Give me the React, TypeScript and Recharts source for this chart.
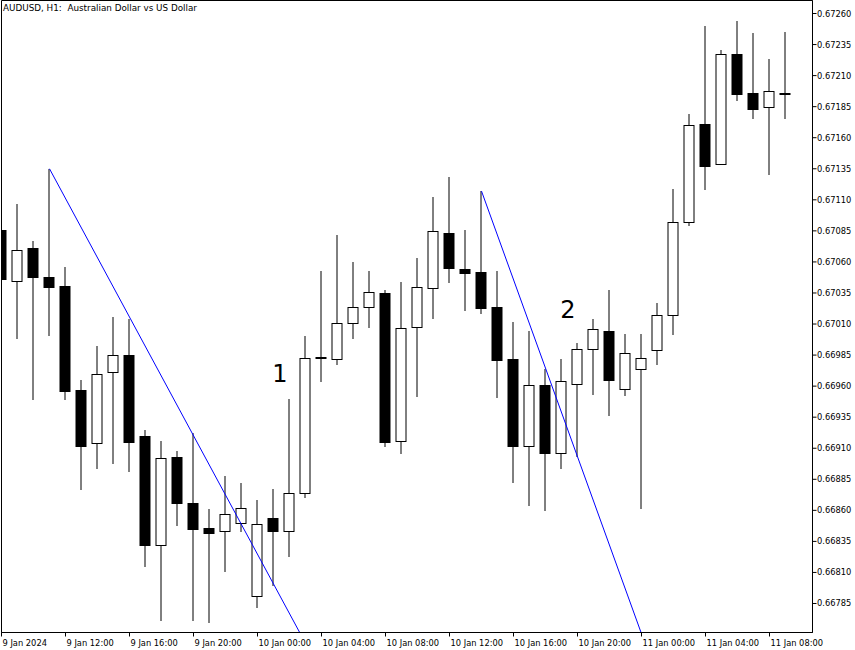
import React from "react";
import {
  ComposedChart,
  Bar,
  Line,
  XAxis,
  YAxis,
  ReferenceArea,
  ReferenceDot,
} from "recharts";

// AUDUSD H1, one entry per hour starting 9 Jan 2024 08:00
const opens = [
  0.67086, 0.67045, 0.67071, 0.67048, 0.67041, 0.66957, 0.66914, 0.66971, 0.66985, 0.6692,
  0.66832, 0.66903, 0.66866, 0.66846, 0.66843, 0.6685, 0.66791, 0.66854, 0.66843, 0.66874,
  0.66983, 0.66982, 0.67011, 0.67024, 0.67035, 0.66916, 0.67008, 0.67039, 0.67083, 0.67054,
  0.67052, 0.67024, 0.66982, 0.66912, 0.66961, 0.66906, 0.66962, 0.6699, 0.67004, 0.66958,
  0.66974, 0.66989, 0.67017, 0.67092, 0.67171, 0.67139, 0.67227, 0.67196, 0.67185, 0.67195,
];
const highs = [
  0.67092, 0.67107, 0.67077, 0.67135, 0.67056, 0.66965, 0.66992, 0.67016, 0.67014, 0.66925,
  0.66916, 0.66908, 0.66922, 0.66861, 0.66888, 0.66882, 0.66868, 0.66877, 0.6695, 0.67,
  0.67053, 0.67082, 0.6706, 0.67053, 0.67037, 0.67044, 0.67063, 0.67112, 0.67128, 0.67086,
  0.67117, 0.67053, 0.67012, 0.67004, 0.66974, 0.66982, 0.66995, 0.67014, 0.67037, 0.67002,
  0.67002, 0.67027, 0.67119, 0.67179, 0.6725, 0.67231, 0.67254, 0.67244, 0.67223, 0.67245,
];
const lows = [
  0.67029, 0.66999, 0.6695, 0.67001, 0.6695, 0.66877, 0.66894, 0.66898, 0.66892, 0.66815,
  0.66772, 0.66848, 0.66772, 0.6677, 0.66811, 0.66843, 0.66782, 0.668, 0.66823, 0.66871,
  0.66964, 0.66978, 0.66999, 0.67008, 0.66912, 0.66906, 0.66952, 0.67015, 0.67044, 0.67021,
  0.67019, 0.66951, 0.66883, 0.66864, 0.6686, 0.66894, 0.66904, 0.66954, 0.66937, 0.66953,
  0.66862, 0.66978, 0.67002, 0.6709, 0.67119, 0.67139, 0.6719, 0.67176, 0.67131, 0.67176,
];
const closes = [
  0.67046, 0.6707, 0.67048, 0.6704, 0.66956, 0.66912, 0.6697, 0.66985, 0.66915, 0.66832,
  0.66902, 0.66866, 0.66845, 0.66842, 0.66857, 0.66862, 0.66849, 0.66843, 0.66874, 0.66983,
  0.66983, 0.67011, 0.67024, 0.67036, 0.66915, 0.67007, 0.6704, 0.67085, 0.67055, 0.67051,
  0.67023, 0.66981, 0.66912, 0.66961, 0.66906, 0.66964, 0.6699, 0.67006, 0.66965, 0.66987,
  0.66983, 0.67017, 0.67092, 0.6717, 0.67137, 0.67227, 0.67195, 0.67183, 0.67198, 0.67195,
];

const timeTicks = [0, 4, 8, 12, 16, 20, 24, 28, 32, 36, 40, 44, 48];
const timeLabels = [
  "9 Jan 2024", "9 Jan 12:00", "9 Jan 16:00", "9 Jan 20:00",
  "10 Jan 00:00", "10 Jan 04:00", "10 Jan 08:00", "10 Jan 12:00",
  "10 Jan 16:00", "10 Jan 20:00", "11 Jan 00:00", "11 Jan 04:00", "11 Jan 08:00",
];
const priceTicks = [
  0.6726, 0.67235, 0.6721, 0.67185, 0.6716, 0.67135, 0.6711, 0.67085, 0.6706, 0.67035,
  0.6701, 0.66985, 0.6696, 0.66935, 0.6691, 0.66885, 0.6686, 0.66835, 0.6681, 0.66785,
];

// trend lines (bar index, price)
const trend1 = [
  { t: 3, v: 0.67135 },
  { t: 19, v: 0.66753 },
];
const trend2 = [
  { t: 30, v: 0.67117 },
  { t: 41, v: 0.66725 },
];

const marks = [
  { t: 17.4, p: 0.66963, text: "1" },
  { t: 35.4, p: 0.67015, text: "2" },
];

const X_MAX = 50.6875;
const Y_MIN = 0.6676165;
const Y_MAX = 0.6727047;
const FONT = "'DejaVu Sans', Tahoma, sans-serif";

const candles = opens.map((o, i) => ({
  t: i,
  open: o,
  high: highs[i],
  low: lows[i],
  close: closes[i],
}));

const Candle = (props: any) => {
  const { x, y, width, height, payload } = props;
  const c = x + width / 2;
  const { open, high, low, close } = payload;
  const span = high - low || 1e-9;
  const yAt = (p: number) => y + ((high - p) / span) * height;
  const yo = Math.round(yAt(open));
  const yc = Math.round(yAt(close));
  const top = Math.min(yo, yc);
  const bot = Math.max(yo, yc);
  let body;
  if (bot - top < 2) {
    body = <rect x={c - 5.5} y={top - 1} width={11} height={2} fill="#000" />;
  } else if (close > open) {
    body = (
      <rect x={c - 5} y={top + 0.5} width={10} height={bot - top} fill="#fff" stroke="#000" strokeWidth={1} />
    );
  } else {
    body = <rect x={c - 5.5} y={top} width={11} height={bot - top + 1} fill="#000" />;
  }
  return (
    <g>
      <line x1={c} x2={c} y1={Math.round(y)} y2={Math.round(y + height) + 1} stroke="#000" strokeWidth={1} />
      {body}
    </g>
  );
};

const TimeTick = (props: any) => {
  const { x, y, payload } = props;
  const label = timeLabels[timeTicks.indexOf(payload.value)];
  return (
    <text x={x + 1} y={y + 7.5} fontSize={8.3} fontFamily={FONT} fill="#000" textAnchor="start">
      {label}
    </text>
  );
};

const PriceTick = (props: any) => {
  const { x, y, payload } = props;
  return (
    <text x={x + 0.5} y={y + 3} fontSize={8.3} fontFamily={FONT} fill="#000" textAnchor="start">
      {Number(payload.value).toFixed(5)}
    </text>
  );
};

export default function App() {
  return (
    <div style={{ position: "absolute", left: 0, top: 0, width: 855, height: 650, background: "#fff" }}>
      <ComposedChart width={855} height={650} data={candles} margin={{ top: 0.5, right: 0, bottom: 0, left: 1.5 }}>
        <XAxis
          dataKey="t"
          type="number"
          domain={[0, X_MAX]}
          allowDataOverflow
          ticks={timeTicks}
          interval={0}
          tickSize={4}
          tickLine={{ stroke: "#000" }}
          axisLine={{ stroke: "#000" }}
          height={17.5}
          tick={<TimeTick />}
        />
        <YAxis
          orientation="right"
          type="number"
          domain={[Y_MIN, Y_MAX]}
          allowDataOverflow
          ticks={priceTicks}
          interval={0}
          tickSize={4}
          tickMargin={0}
          width={42.5}
          tickLine={{ stroke: "#000" }}
          axisLine={{ stroke: "#000" }}
          tick={<PriceTick />}
        />
        <ReferenceArea x1={0} x2={X_MAX} y1={Y_MIN} y2={Y_MAX} fill="none" stroke="#000" strokeWidth={1} ifOverflow="visible" />
        <Bar dataKey={(d: any) => [d.low, d.high]} barSize={11} shape={<Candle />} isAnimationActive={false} />
        <Line data={trend1} dataKey="v" stroke="#0000ff" strokeWidth={1} dot={false} isAnimationActive={false} />
        <Line data={trend2} dataKey="v" stroke="#0000ff" strokeWidth={1} dot={false} isAnimationActive={false} />
        {marks.map((m) => (
          <ReferenceDot
            key={m.text}
            x={m.t}
            y={m.p}
            r={0}
            shape={(p: any) => (
              <text x={p.cx} y={p.cy} textAnchor="middle" fontSize={24} fontFamily={FONT} fill="#000">
                {m.text}
              </text>
            )}
          />
        ))}
      </ComposedChart>
      <svg width={855} height={20} style={{ position: "absolute", left: 0, top: 0, pointerEvents: "none" }}>
        <text x={3} y={11} fontSize={8.8} fontFamily={FONT} fill="#000" style={{ whiteSpace: "pre" }}>
          {"AUDUSD, H1:  Australian Dollar vs US Dollar"}
        </text>
      </svg>
    </div>
  );
}
